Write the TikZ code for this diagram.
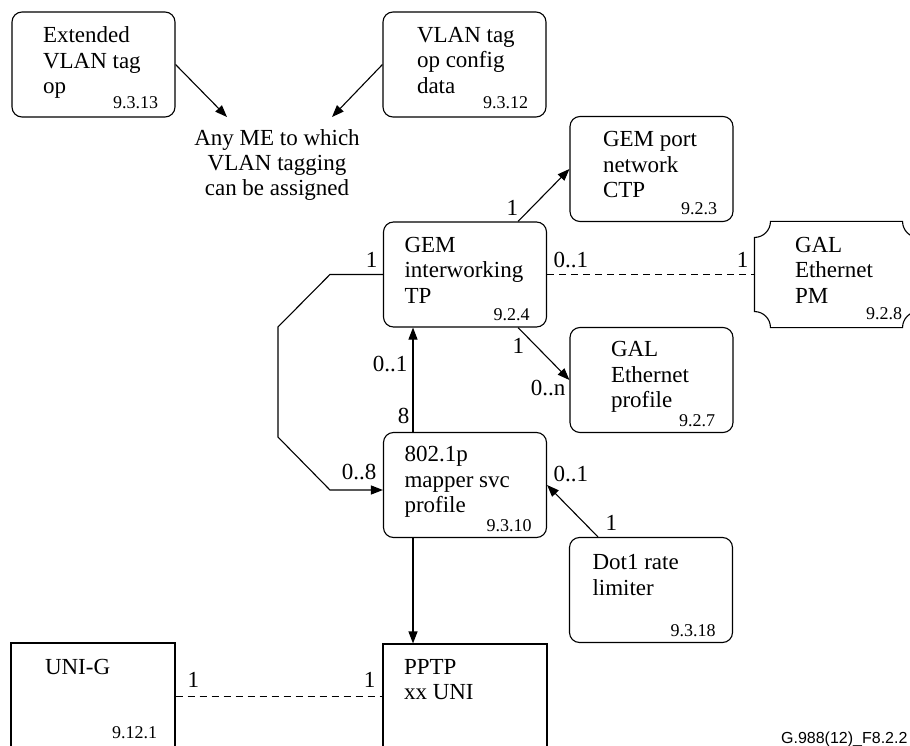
\documentclass[tikz,border=0pt]{standalone}
\usepackage{fontspec}
\setmainfont{Liberation Serif}
\newfontfamily\figsans{Liberation Sans}
\usetikzlibrary{arrows.meta}
\usetikzlibrary{calc}
\tikzset{mebox/.style = {draw, rounded corners = 10pt, minimum width = 163, minimum height = 105, inner sep = 0}}
\tikzset{sqbox/.style = {draw, minimum width = 164, minimum height = 120, inner sep = 0}}
\tikzset{pmbox/.style = {minimum width = 163, minimum height = 105, inner sep = 0}}
\tikzset{metext/.style = {anchor = north west, align = left, inner sep = 0, font = \fontsize{23}{25.5}\selectfont}}
\tikzset{meref/.style = {anchor = base east, inner sep = 0, font = \fontsize{18}{18}\selectfont}}
\tikzset{mult/.style = {inner sep = 0, font = \fontsize{23}{25}\selectfont}}

\begin{document}
\begin{tikzpicture}[x = 1pt, y = -1pt, line width = 1.1pt, >={Triangle[length = 12pt, width = 9pt]}]
  \useasboundingbox (0, 0) rectangle (910, 746);

  % managed entities
  \node [mebox] (extvlan) at (93.5, 64.5) {};
  \node [mebox] (vlancfg) at (464.5, 64.5) {};
  \node [mebox] (gemctp) at (651.5, 169) {};
  \node [mebox] (gemiw) at (465, 274.5) {};
  \node [mebox] (galprof) at (651.5, 380) {};
  \node [mebox] (mapper) at (465, 485) {};
  \node [mebox] (dotrate) at (651, 590) {};
  \node [sqbox] (unig) at (93, 703) {};
  \node [sqbox] (pptp) at (465, 704) {};
  \node [pmbox] (galpm) at (836.5, 274.5) {};
  \draw ([yshift = -16pt]galpm.north west) arc [start angle = 90, end angle = 0, radius = 16]
    -- ([xshift = -16pt]galpm.north east) arc [start angle = 180, end angle = 90, radius = 16]
    -- ([yshift = 16pt]galpm.south east) arc [start angle = 270, end angle = 180, radius = 16]
    -- ([xshift = 16pt]galpm.south west) arc [start angle = 360, end angle = 270, radius = 16]
    -- cycle;

  \node [metext] (extvlan-txt) at ([shift = {(31, 15)}]extvlan.north west) {Extended\\VLAN tag\\op};
  \node [metext] (vlancfg-txt) at ([shift = {(34, 15)}]vlancfg.north west) {VLAN tag\\op config\\data};
  \node [metext] (gemctp-txt) at ([shift = {(33, 15)}]gemctp.north west) {GEM port\\network\\CTP};
  \node [metext] (gemiw-txt) at ([shift = {(21, 15)}]gemiw.north west) {GEM\\interworking\\TP};
  \node [metext] (galpm-txt) at ([shift = {(40, 15)}]galpm.north west) {GAL\\Ethernet\\PM};
  \node [metext] (galprof-txt) at ([shift = {(41, 14)}]galprof.north west) {GAL\\Ethernet\\profile};
  \node [metext] (mapper-txt) at ([shift = {(21, 14)}]mapper.north west) {802.1p\\mapper svc\\profile};
  \node [metext] (dotrate-txt) at ([shift = {(23, 17)}]dotrate.north west) {Dot1 rate\\limiter};
  \node [metext] (unig-txt) at ([shift = {(34, 16)}]unig.north west) {UNI-G};
  \node [metext] (pptp-txt) at ([shift = {(21, 15)}]pptp.north west) {PPTP\\xx UNI};

  \node [meref] (extvlan-ref) at ([shift = {(-17, -9)}]extvlan.south east) {9.3.13};
  \node [meref] (vlancfg-ref) at ([shift = {(-18, -9)}]vlancfg.south east) {9.3.12};
  \node [meref] (gemctp-ref) at ([shift = {(-16, -8)}]gemctp.south east) {9.2.3};
  \node [meref] (gemiw-ref) at ([shift = {(-17, -7)}]gemiw.south east) {9.2.4};
  \node [meref] (galpm-ref) at ([shift = {(-16, -8)}]galpm.south east) {9.2.8};
  \node [meref] (galprof-ref) at ([shift = {(-18, -7)}]galprof.south east) {9.2.7};
  \node [meref] (mapper-ref) at ([shift = {(-15, -7)}]mapper.south east) {9.3.10};
  \node [meref] (dotrate-ref) at ([shift = {(-17, -7)}]dotrate.south east) {9.3.18};
  \node [meref] (unig-ref) at ([shift = {(-18, -25)}]unig.south east) {9.12.1};

  \node [mult, align = center, anchor = north] (anyme) at (277, 129) {Any ME to which\\VLAN tagging\\can be assigned};

  % connectors
  \draw [->] (extvlan.east) -- ([shift = {(-50, -12)}]anyme.north);
  \draw [->] (vlancfg.west) -- ([shift = {(55, -12)}]anyme.north);
  \draw [->] ([xshift = 53pt]gemiw.north) -- (gemctp.west);
  \draw [dash pattern = on 7pt off 5pt] (gemiw.east) -- (galpm.west);
  \draw [->] ([xshift = 53pt]gemiw.south) -- (galprof.west);
  \draw [->] ([xshift = -52pt]mapper.north) -- ([xshift = -52pt]gemiw.south);
  \draw [->] (gemiw.west) -- ++(-53, 0) -- ++(-52, 52.5) -- ++(0, 110) -- ++(52, 53) -- ([yshift = -5pt]mapper.west);
  \draw [->] ([xshift = -52pt]mapper.south) -- ([xshift = -52pt]pptp.north);
  \draw [->] ([xshift = -53pt]dotrate.north) -- (mapper.east);
  \draw [dash pattern = on 7pt off 5pt] ([yshift = -54pt]unig.north east) -- ([yshift = -53pt]pptp.north west);

  % multiplicities
  \node [mult, anchor = base west] (m-ctp) at (506, 215) {1};
  \node [mult, anchor = base west] (m-pm-iw) at (553, 267) {0..1};
  \node [mult, anchor = base east] (m-pm) at (749, 267) {1};
  \node [mult, anchor = base west] (m-prof-iw) at (512, 353) {1};
  \node [mult, anchor = base east] (m-prof) at (566, 395) {0..n};
  \node [mult, anchor = base east] (m-iw-map) at (408, 371) {0..1};
  \node [mult, anchor = base east] (m-map-iw) at (410, 423) {8};
  \node [mult, anchor = base east] (m-loop-iw) at (378, 267) {1};
  \node [mult, anchor = base east] (m-loop-map) at (377, 479) {0..8};
  \node [mult, anchor = base west] (m-map-dot) at (553, 481) {0..1};
  \node [mult, anchor = base west] (m-dot) at (605, 530) {1};
  \node [mult, anchor = base west] (m-unig) at (187, 687) {1};
  \node [mult, anchor = base east] (m-pptp) at (376, 687) {1};

  \node [anchor = base east, inner sep = 0, font = \figsans\fontsize{16}{16}\selectfont] (figid) at (908, 743) {G.988(12)\_F8.2.2};
\end{tikzpicture}
\end{document}
